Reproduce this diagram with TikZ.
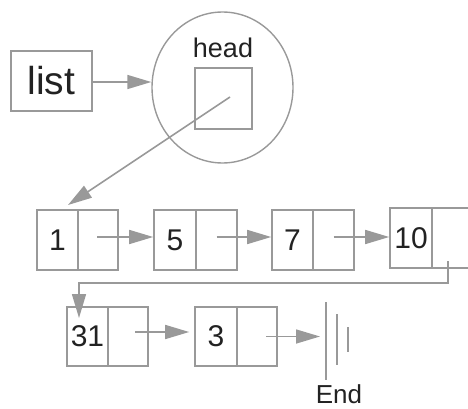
\documentclass[tikz,border=0pt]{standalone}
\usepackage{fontspec}
\setmainfont{Liberation Sans}
\usetikzlibrary{arrows.meta,shapes.geometric}
\definecolor{ln}{HTML}{999999}
\definecolor{tx}{HTML}{222222}
\begin{document}
\begin{tikzpicture}[x=1pt,y=-1pt,
  cell/.style={draw=ln,line width=1.6pt,minimum width=41pt,minimum height=60pt,inner sep=0pt,text=tx,font=\fontsize{30}{32}\selectfont},
  conn/.style={draw=ln,line width=1.6pt,-{Triangle[length=24pt,width=14pt]}},
  lbl/.style={text=tx,inner sep=0pt}]
\useasboundingbox (0,0) rectangle (468,409);
\clip (0,0) rectangle (468,409);
% list
\node[draw=ln,line width=1.6pt,minimum width=81pt,minimum height=60pt,inner sep=0pt,text=tx,font=\fontsize{39}{40}\selectfont] (list) at (51.5,81) {list};
% head ellipse
\node[ellipse,draw=ln,line width=1.4pt,minimum width=141pt,minimum height=151pt,inner sep=0pt] (headc) at (222.5,87.5) {};
\node[lbl,font=\fontsize{27}{28}\selectfont] (headt) at (223,48) {head};
\node[draw=ln,line width=1.6pt,minimum width=57pt,minimum height=61pt,inner sep=0pt] (hbox) at (223.5,98.5) {};
\draw[conn] ([yshift=-1pt]list.east) -- ([yshift=-1pt]list.east -| headc.west);
\coordinate (hs) at (230,97);
% row 1
\node[cell] (l1) at (57.5,240) {1};
\node[cell,minimum width=40pt] (r1) at (98,240) {};
\node[cell,minimum width=42pt] (l5) at (175,240) {5};
\node[cell] (r5) at (216.5,240) {};
\node[cell] (l7) at (292.5,240) {7};
\node[cell] (r7) at (333.5,240) {};
\node[cell,minimum width=42pt] (l10) at (411,238) {10};
\node[cell,minimum width=42pt] (r10) at (453,238) {};
% row 2
\node[cell,minimum width=41pt,minimum height=59pt] (l31) at (87.5,336.5) {31};
\node[cell,minimum width=40pt,minimum height=59pt] (r31) at (128,336.5) {};
\node[cell,minimum width=42pt,minimum height=59pt] (l3) at (216,336.5) {3};
\node[cell,minimum width=40pt,minimum height=59pt] (r3) at (257,336.5) {};
% head arrow
\coordinate (h1) at (68,205);
\draw[conn] (hs) -- (h1);
% row arrows
\coordinate (a1) at ([xshift=-1pt,yshift=3pt]r1.center);
\coordinate (a5) at ([yshift=3pt]r5.center);
\coordinate (a7) at ([yshift=3pt]r7.center);
\draw[conn] (a1) -- (a1 -| l5.west);
\draw[conn] (a5) -- (a5 -| l7.west);
\draw[conn] (a7) -- (a7 -| l10.west);
% 10 -> 31
\coordinate (s10) at (448,261);
\coordinate (t31) at (79,318);
\draw[conn] (s10) |- (79,283) -- (t31);
\coordinate (a31) at ([xshift=7pt,yshift=4.5pt]r31.center);
\draw[conn] (a31) -- ([xshift=-5pt]a31 -| l3.west);
% End
\coordinate (e1t) at (326,302);
\coordinate (e1b) at (326,380);
\coordinate (e2t) at (337,314);
\coordinate (e2b) at (337,365);
\coordinate (e3t) at (348,327);
\coordinate (e3b) at (348,352);
\draw[ln,line width=1.6pt] (e1t) -- (e1b);
\draw[ln,line width=1.6pt] (e2t) -- (e2b);
\draw[ln,line width=1.6pt] (e3t) -- (e3b);
\coordinate (a3) at ([xshift=9pt]r3.center);
\draw[conn] (a3) -- ([xshift=-6pt]a3 -| e1t);
\node[lbl,font=\fontsize{26}{28}\selectfont] (endt) at (339,394) {End};
\end{tikzpicture}
\end{document}
